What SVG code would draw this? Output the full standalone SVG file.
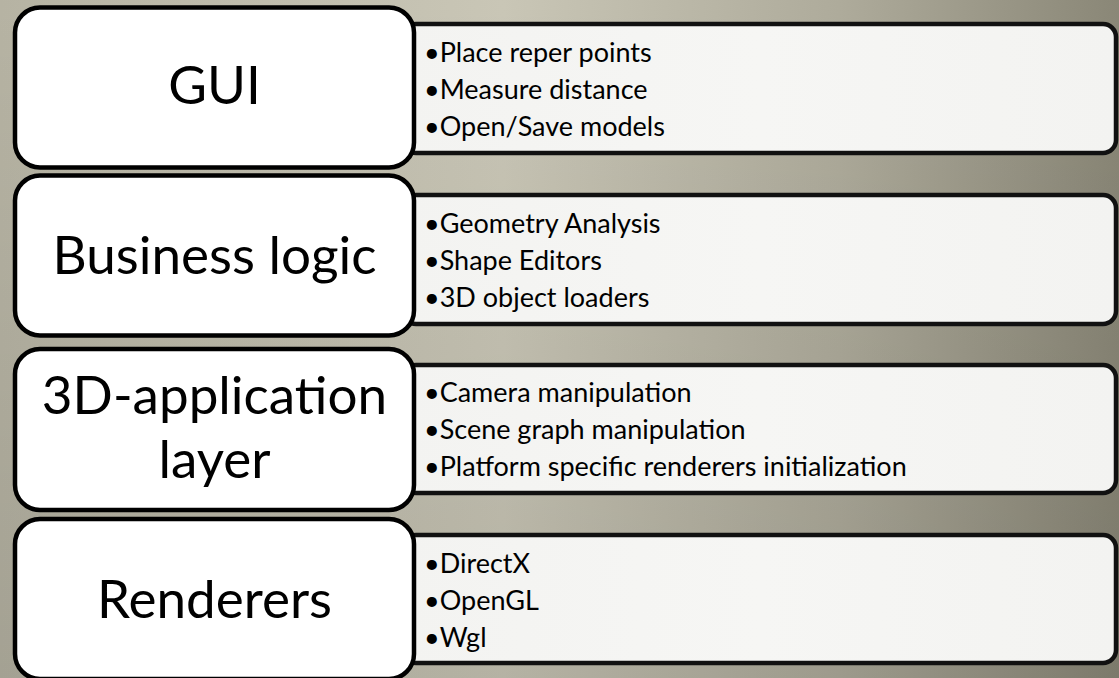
<svg xmlns="http://www.w3.org/2000/svg" width="1119" height="678" viewBox="0 0 1119 678">
<defs>
<linearGradient id="bgH" x1="0" y1="0" x2="1" y2="0">
<stop offset="0" stop-color="#b6b3a3"/>
<stop offset="0.45" stop-color="#c9c6b6"/>
<stop offset="0.75" stop-color="#aeab9b"/>
<stop offset="1" stop-color="#8a8777"/>
</linearGradient>
<linearGradient id="bgV" x1="0" y1="0" x2="0" y2="1">
<stop offset="0" stop-color="#000" stop-opacity="0"/>
<stop offset="1" stop-color="#000" stop-opacity="0.1"/>
</linearGradient>
<linearGradient id="panel" x1="0" y1="0" x2="1" y2="0">
<stop offset="0" stop-color="#f3f3f1"/>
<stop offset="0.5" stop-color="#f6f6f4"/>
<stop offset="1" stop-color="#f3f3f1"/>
</linearGradient>
<style>
.main{fill:#fff;stroke:#000;stroke-width:4.5}
.side{fill:url(#panel);stroke:#111;stroke-width:4.5}
.title{font-family:Lato,"Liberation Sans",sans-serif;font-size:53px;fill:#000;text-anchor:middle}
.item{font-family:Lato,"Liberation Sans",sans-serif;font-size:27px;fill:#000}
</style>
</defs>
<rect width="1119" height="678" fill="url(#bgH)"/>
<rect width="1119" height="678" fill="url(#bgV)"/>
<g id="connectors"></g>
<g id="gui">
<rect class="side" x="403" y="24" width="713" height="129" rx="13"/>
<rect class="main" x="15" y="7.5" width="399" height="160" rx="25"/>
<text class="title" x="214.5" y="104">GUI</text>
<text class="item" x="424" y="61.5">•Place reper points</text>
<text class="item" x="424" y="98.5">•Measure distance</text>
<text class="item" x="424" y="135.5">•Open/Save models</text>
</g>
<g id="business">
<rect class="side" x="403" y="195" width="713" height="129" rx="13"/>
<rect class="main" x="15" y="175.5" width="399" height="160" rx="25"/>
<text class="title" x="214.5" y="274">Business logic</text>
<text class="item" x="424" y="232.5">•Geometry Analysis</text>
<text class="item" x="424" y="269.5">•Shape Editors</text>
<text class="item" x="424" y="306.5">•3D object loaders</text>
</g>
<g id="app3d">
<rect class="side" x="403" y="365" width="713" height="128" rx="13"/>
<rect class="main" x="15" y="349" width="399" height="161" rx="25"/>
<text class="title" x="214.5" y="414">3D-application</text>
<text class="title" x="214.5" y="478">layer</text>
<text class="item" x="424" y="401.5">•Camera manipulation</text>
<text class="item" x="424" y="438.5">•Scene graph manipulation</text>
<text class="item" x="424" y="475.5">•Platform specific renderers initialization</text>
</g>
<g id="renderers">
<rect class="side" x="403" y="535" width="713" height="128" rx="13"/>
<rect class="main" x="15" y="519" width="399" height="160" rx="25"/>
<text class="title" x="214.5" y="618">Renderers</text>
<text class="item" x="424" y="572.5">•DirectX</text>
<text class="item" x="424" y="609.5">•OpenGL</text>
<text class="item" x="424" y="646.5">•Wgl</text>
</g>
</svg>
